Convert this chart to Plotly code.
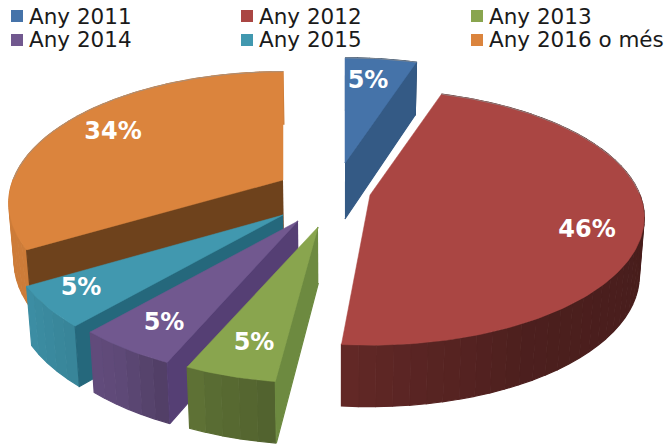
import numpy as np
import plotly.graph_objects as go

categories = ["Any 2011", "Any 2012", "Any 2013", "Any 2014", "Any 2015", "Any 2016 o més"]
values = [5, 46, 5, 5, 5, 34]
top_colors = ["#4573A9", "#AA4643", "#89A54E", "#71588F", "#4198AF", "#DB843D"]
wall_colors = ["#345A85", "#4A1C18", "#6D8A40", "#553F74", "#25687C", "#6E421C"]

# Projection of the tilted pie, in picture pixels
apex_x = [345, 370, 318, 298, 283, 283]
apex_y = [163, 195, 227, 221, 215, 180]
y_stretch = [1.0, 1.0, 1.04, 1.05, 1.05, 1.03]
start_nudge = [0, 0, 2.5, 0, 0, 0]
label_x = [368, 587, 254, 164, 81, 113]
label_y = [82, 231, 344, 324, 289, 133]
legend_x = [17, 247, 477, 17, 247, 477]
legend_y = [16, 16, 16, 40, 40, 40]
legend_text_x = [29, 259, 489, 29, 259, 489]
legend_text_y = [19, 19, 19, 42, 42, 42]
R, K, G = 270.0, 0.176, 123.75
shade_angle = [0, 90, 150, 180, 200, 215, 240, 360]
shade_factor = [0.45, 0.42, 0.45, 0.56, 0.66, 0.84, 0.94, 0.94]
warp_in = [0, 18, 183.6, 201.6, 237.6, 360]
warp_out = [0, 18, 185, 204, 240, 360]


def project(theta, ax, ay, stretch):
    s, c = np.sin(theta), np.cos(theta)
    w = 1 + K * c
    return ax + R * s / w, ay - stretch * G * c / w


def depth(theta):
    return 57 - 4.5 * np.cos(theta)


def lower_x(x):
    return x - 0.016 * (np.asarray(x) - 340)


def scale(hex_color, f):
    r, g, b = (int(hex_color[i:i + 2], 16) for i in (1, 3, 5))
    return f"rgb({int(r * f)},{int(g * f)},{int(b * f)})"


def poly(xs, ys, color, width=1.2):
    return go.Scatter(
        x=list(xs), y=list(ys), mode="lines", fill="toself", fillcolor=color,
        line=dict(color=color, width=width), hoverinfo="skip", showlegend=False,
    )


fig = go.Figure()
edges_deg = np.concatenate([[0], np.cumsum(values)]) * 3.6
edges = np.radians(np.interp(edges_deg, warp_in, warp_out))

for i in [5, 0, 1, 4, 3, 2]:
    t0, t1 = edges[i] + np.radians(start_nudge[i]), edges[i + 1]
    ax, ay, st = apex_x[i], apex_y[i], y_stretch[i]
    # outer wall as shaded strips
    n = max(4, int(np.degrees(t1 - t0) / 3))
    ts = np.linspace(t0, t1, n + 1)
    for a, b in zip(ts[:-1], ts[1:]):
        sub = np.linspace(a, b, 3)
        xs, ys = project(sub, ax, ay, st)
        ds = depth(sub)
        f = np.interp(np.degrees((a + b) / 2), shade_angle, shade_factor)
        fig.add_trace(poly(np.r_[xs, lower_x(xs)[::-1]], np.r_[ys, (ys + ds)[::-1]], scale(top_colors[i], f)))
    # radial walls facing the viewer
    for t, visible in ((t0, np.sin(t0) < -1e-6), (t1, np.sin(t1) > 1e-6)):
        if visible:
            ex, ey = project(t, ax, ay, st)
            d = depth(t)
            fig.add_trace(poly([ax, ex, lower_x(ex), lower_x(ax)], [ay, ey, ey + d, ay + 56], wall_colors[i]))
    # top face
    ts = np.linspace(t0, t1, max(12, n * 3))
    xs, ys = project(ts, ax, ay, st)
    fig.add_trace(poly(np.r_[ax, xs, ax], np.r_[ay, ys, ay], top_colors[i], width=0.5))
    # soft grey rim along the back of the pie
    back = np.cos(ts) > 0
    if back.any():
        fig.add_trace(go.Scatter(
            x=xs[back], y=ys[back], mode="lines",
            line=dict(color="rgba(150,150,150,0.7)", width=1),
            hoverinfo="skip", showlegend=False,
        ))

# value labels
fig.add_trace(go.Scatter(
    x=label_x, y=label_y, mode="text", text=[f"{v}%" for v in values],
    textposition="middle center",
    textfont=dict(family="DejaVu Sans", size=24, color="white", weight="bold"),
    hoverinfo="skip", showlegend=False,
))
# legend
fig.add_trace(go.Scatter(
    x=legend_x, y=legend_y, mode="markers",
    marker=dict(symbol="square", size=12, color=top_colors),
    hoverinfo="skip", showlegend=False,
))
fig.add_trace(go.Scatter(
    x=legend_text_x, y=legend_text_y, mode="text", text=categories,
    textposition="middle right",
    textfont=dict(family="DejaVu Sans", size=21.5, color="#1a1a1a"),
    hoverinfo="skip", showlegend=False,
))

fig.update_layout(
    width=667, height=445, margin=dict(l=0, r=0, t=0, b=0),
    paper_bgcolor="white", plot_bgcolor="white", showlegend=False,
    xaxis=dict(range=[0, 667], visible=False, fixedrange=True),
    yaxis=dict(range=[445, 0], visible=False, fixedrange=True),
)
fig.write_html(
    "out.html", config=dict(displayModeBar=False),
    post_script="document.body.style.margin='0';document.body.style.overflow='hidden';",
)
